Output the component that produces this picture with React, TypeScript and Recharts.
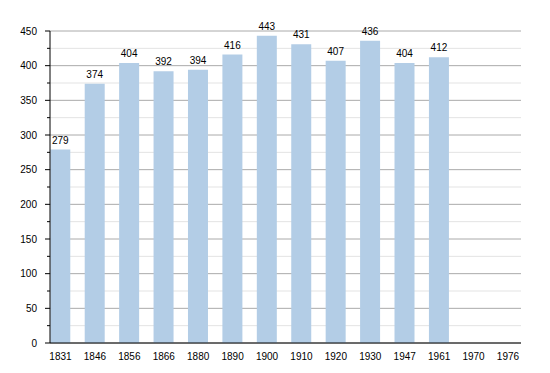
import { Bar, BarChart, CartesianGrid, LabelList, XAxis, YAxis } from "recharts";

const years = ["1831", "1846", "1856", "1866", "1880", "1890", "1900", "1910", "1920", "1930", "1947", "1961", "1970", "1976"];
const population = [279, 374, 404, 392, 394, 416, 443, 431, 407, 436, 404, 412, null, null];
const majorTicks = [0, 50, 100, 150, 200, 250, 300, 350, 400, 450];
const minorTicks = [25, 75, 125, 175, 225, 275, 325, 375, 425];
const yTicks = [...majorTicks, ...minorTicks].sort((a, b) => a - b);

const data = years.map((year, i) => ({ idx: i, year, value: population[i] }));

const FONT = '"Liberation Sans", Arial, sans-serif';

function YTick(props: any) {
  const { x, y, payload } = props;
  const major = payload.value % 50 === 0;
  return (
    <g>
      <line x1={x - (major ? 5 : 3)} x2={x} y1={y} y2={y} stroke="#000" strokeWidth={1} />
      {major && (
        <text x={x - 13} y={y} dy={3.5} textAnchor="end" fontSize={10} fontFamily={FONT} fill="#000">
          {payload.value}
        </text>
      )}
    </g>
  );
}

export default function App() {
  return (
    <div style={{ position: "absolute", left: 0, top: 0 }}>
      <BarChart width={550} height={373} data={data} margin={{ top: 31, right: 29, left: 0, bottom: 10 }}>
        <CartesianGrid vertical={false} horizontalValues={minorTicks} stroke="#e3e3e3" />
        <CartesianGrid vertical={false} horizontalValues={majorTicks} stroke="#aaaaaa" />
        <XAxis
          dataKey="idx"
          type="number"
          domain={[-0.305, 13.378]}
          ticks={years.map((_, i) => i)}
          interval={0}
          allowDataOverflow
          tickFormatter={(i: number) => years[i]}
          tickLine={false}
          axisLine={{ stroke: "#000" }}
          tick={{ fontSize: 10, fontFamily: FONT, fill: "#000" }}
          tickMargin={4}
          height={20}
        />
        <YAxis
          domain={[0, 450]}
          ticks={yTicks}
          interval={0}
          width={50}
          tickSize={0}
          tickMargin={0}
          tickLine={false}
          axisLine={{ stroke: "#000" }}
          tick={<YTick />}
        />
        <Bar dataKey="value" fill="#b3cde6" barSize={20} isAnimationActive={false}>
          <LabelList dataKey="value" position="top" offset={6} fontSize={10} fontFamily={FONT} fill="#000" />
        </Bar>
      </BarChart>
    </div>
  );
}
